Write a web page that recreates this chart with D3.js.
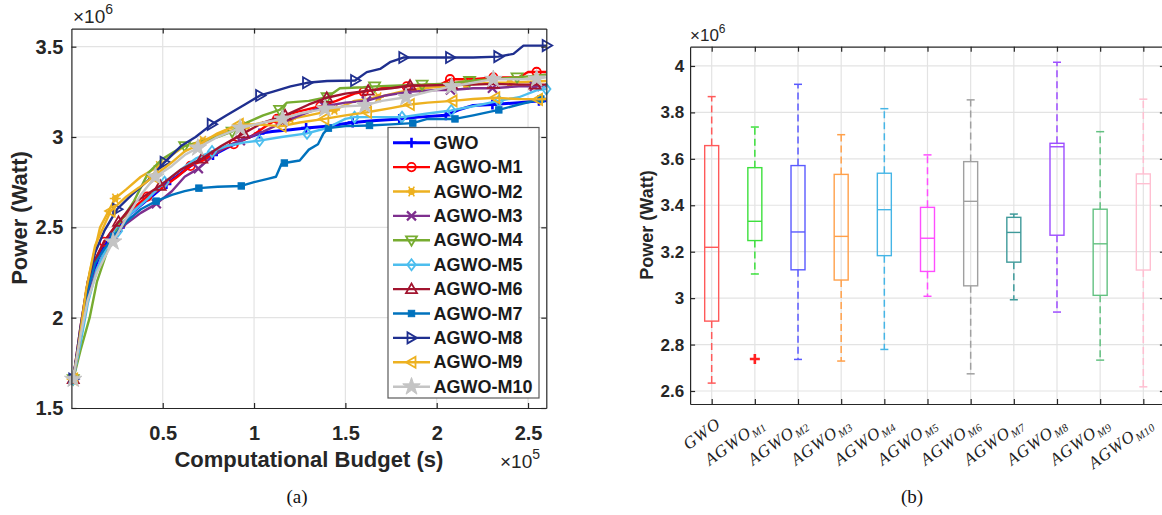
<!DOCTYPE html>
<html>
<head>
<meta charset="utf-8">
<script src="https://cdn.jsdelivr.net/npm/d3@7"></script>
<style>
  body { margin: 0; background: #fff; }
  svg { display: block; }
  .sans { font-family: "Liberation Sans", Arial, Helvetica, sans-serif; }
</style>
</head>
<body>
<svg id="chart" width="1162" height="515"></svg>
<script>
// ---------------- panel (a): convergence curves ----------------
// Budget in units of 1e5 s, power in units of 1e6 W.
// Third element = 1 where the curve carries a marker.
const seriesNames = ["GWO","AGWO-M1","AGWO-M2","AGWO-M3","AGWO-M4","AGWO-M5",
                     "AGWO-M6","AGWO-M7","AGWO-M8","AGWO-M9","AGWO-M10"];
const seriesColors = ["#0000ff","#ff0000","#edb120","#7e2f8e","#77ac30","#4dbeee",
                      "#a2142f","#0072bd","#1f2f8f","#edb120","#c4c4c4"];
const seriesMarkers = ["plus","circle","asterisk","cross","tdown","diamond",
                       "tup","square","tright","tleft","star"];

const gwo = [[0.01,1.66,1],[0.05,1.9],[0.08,2.1],[0.11,2.23],[0.16,2.36],[0.21,2.44],[0.265,2.5,1],
  [0.33,2.58],[0.4,2.64],[0.45,2.68],[0.52,2.74,1],[0.6,2.8],[0.68,2.86],[0.775,2.9,1],[0.85,2.94],
  [0.95,2.99],[1.03,3.02,1],[1.1,3.03],[1.2,3.04],[1.285,3.05,1],[1.4,3.06],[1.54,3.08,1],[1.65,3.09],
  [1.795,3.1,1],[1.9,3.11],[2.05,3.12,1],[2.12,3.15],[2.2,3.175],[2.305,3.18,1],[2.45,3.19],[2.56,3.2,1],[2.6,3.2]];
const agwoM1 = [[0.01,1.66,1],[0.05,1.95],[0.09,2.2],[0.13,2.32],[0.178,2.42,1],[0.25,2.52],[0.33,2.6],
  [0.415,2.67,1],[0.5,2.72],[0.58,2.78],[0.652,2.84,1],[0.72,2.87],[0.8,2.92],[0.889,2.96,1],[0.98,3.0],
  [1.05,3.05],[1.126,3.1,1],[1.2,3.13],[1.28,3.15],[1.363,3.17,1],[1.45,3.2],[1.55,3.24],[1.6,3.25,1],
  [1.7,3.27],[1.836,3.28,1],[1.95,3.29],[2.02,3.29],[2.073,3.32,1],[2.2,3.32],[2.31,3.33,1],[2.45,3.33],
  [2.5,3.36],[2.547,3.36,1],[2.6,3.36]];
const agwoM2 = [[0.01,1.66,1],[0.04,1.85],[0.07,2.02],[0.1,2.25],[0.157,2.5],[0.24,2.66,1],[0.3,2.71],
  [0.38,2.78],[0.48,2.84,1],[0.55,2.9],[0.62,2.95],[0.72,2.98,1],[0.82,3.02],[0.96,3.06,1],[1.05,3.08],
  [1.2,3.1,1],[1.3,3.12],[1.44,3.15,1],[1.55,3.2],[1.68,3.22,1],[1.8,3.25],[1.92,3.27,1],[2.05,3.28],
  [2.16,3.29,1],[2.3,3.3],[2.4,3.3,1],[2.6,3.31]];
const agwoM3 = [[0.01,1.66,1],[0.05,1.88],[0.09,2.1],[0.13,2.25],[0.18,2.36],[0.235,2.45,1],[0.3,2.52],
  [0.38,2.58],[0.465,2.63,1],[0.55,2.7],[0.62,2.78],[0.695,2.825,1],[0.78,2.9],[0.85,2.95],[0.925,2.98,1],
  [1.05,3.03],[1.155,3.08,1],[1.25,3.12],[1.385,3.17,1],[1.5,3.19],[1.615,3.2,1],[1.72,3.23],[1.845,3.25,1],
  [2.0,3.26],[2.075,3.26,1],[2.2,3.27],[2.305,3.27,1],[2.45,3.28],[2.535,3.28,1],[2.6,3.28]];
const agwoM4 = [[0.01,1.66,1],[0.05,1.82],[0.1,2.0],[0.14,2.2],[0.2,2.38],[0.26,2.52],[0.34,2.64],
  [0.42,2.8],[0.5,2.88],[0.58,2.93],[0.62,2.95,1],[0.7,2.97],[0.8,3.0],[0.88,3.03,1],[0.96,3.08],
  [1.05,3.12],[1.14,3.15,1],[1.18,3.19],[1.3,3.2],[1.4,3.22,1],[1.47,3.27],[1.6,3.275],[1.66,3.28,1],
  [1.8,3.285],[1.92,3.29,1],[2.05,3.295],[2.18,3.31,1],[2.3,3.32],[2.44,3.33,1],[2.6,3.345]];
const agwoM5 = [[0.01,1.66,1],[0.05,1.86],[0.09,2.08],[0.14,2.27],[0.19,2.38],[0.255,2.48,1],[0.33,2.58],
  [0.42,2.66],[0.51,2.75,1],[0.6,2.82],[0.68,2.88],[0.77,2.92,1],[0.85,2.95],[0.95,2.97],[1.03,2.98,1],
  [1.15,3.0],[1.29,3.02,1],[1.4,3.05],[1.5,3.1],[1.55,3.11,1],[1.7,3.11],[1.81,3.11,1],[1.95,3.13],
  [2.08,3.147,1],[2.2,3.17],[2.34,3.2,1],[2.45,3.22],[2.55,3.26],[2.6,3.265,1]];
const agwoM6 = [[0.01,1.66,1],[0.04,1.85],[0.08,2.12],[0.12,2.3],[0.18,2.42],[0.258,2.53,1],[0.35,2.64],
  [0.486,2.73,1],[0.6,2.82],[0.714,2.88,1],[0.82,2.95],[0.942,3.02,1],[1.05,3.08],[1.17,3.12,1],
  [1.3,3.18],[1.398,3.217,1],[1.5,3.24],[1.625,3.257,1],[1.75,3.27],[1.854,3.285,1],[1.95,3.285],
  [2.082,3.29,1],[2.2,3.29],[2.31,3.294,1],[2.45,3.29],[2.538,3.29,1],[2.6,3.29]];
const agwoM7 = [[0.01,1.66,1],[0.05,1.92],[0.09,2.15],[0.13,2.3],[0.18,2.38],[0.23,2.45,1],[0.3,2.53],
  [0.38,2.6],[0.464,2.645,1],[0.55,2.68],[0.62,2.7],[0.698,2.717,1],[0.8,2.725],[0.93,2.729,1],[1.0,2.75],
  [1.08,2.77],[1.12,2.78],[1.15,2.85],[1.166,2.856,1],[1.25,2.87],[1.3,2.93],[1.35,2.96],[1.38,3.02],
  [1.407,3.049,1],[1.5,3.06],[1.632,3.064,1],[1.75,3.07],[1.869,3.077,1],[1.95,3.1],[2.1,3.1,1],
  [2.2,3.12],[2.34,3.15,1],[2.45,3.18],[2.57,3.21,1],[2.6,3.21]];
const agwoM8 = [[0.01,1.66,1],[0.05,1.95],[0.09,2.2],[0.13,2.36],[0.18,2.48],[0.25,2.6,1],[0.33,2.68],
  [0.42,2.76],[0.51,2.86,1],[0.6,2.95],[0.68,3.0],[0.768,3.07,1],[0.85,3.12],[0.95,3.18],[1.033,3.23,1],
  [1.1,3.25],[1.2,3.28],[1.29,3.3,1],[1.4,3.31],[1.553,3.313,1],[1.617,3.359],[1.69,3.377],[1.744,3.414],
  [1.817,3.44,1],[1.95,3.44],[2.073,3.44,1],[2.2,3.44],[2.337,3.445,1],[2.42,3.46],[2.475,3.506],[2.602,3.506,1]];
const agwoM9 = [[0.01,1.66,1],[0.04,1.85],[0.08,2.15],[0.13,2.4],[0.215,2.59,1],[0.3,2.67],[0.37,2.72],
  [0.449,2.78,1],[0.55,2.86],[0.62,2.92],[0.683,2.95,1],[0.8,3.02],[0.917,3.07,1],[1.0,3.07],[1.151,3.06,1],
  [1.25,3.08],[1.385,3.1,1],[1.5,3.12],[1.619,3.137,1],[1.75,3.16],[1.853,3.18,1],[1.95,3.19],[2.087,3.2,1],
  [2.2,3.21],[2.321,3.217,1],[2.45,3.21],[2.555,3.208,1],[2.6,3.21]];
const agwoM10 = [[0.01,1.66,1],[0.05,1.9],[0.09,2.1],[0.14,2.25],[0.18,2.33],[0.228,2.42,1],[0.3,2.55],
  [0.38,2.68],[0.46,2.78,1],[0.55,2.84],[0.62,2.9],[0.692,2.94,1],[0.8,3.0],[0.924,3.05,1],[1.05,3.08],
  [1.156,3.1,1],[1.25,3.13],[1.388,3.156,1],[1.5,3.17],[1.607,3.175,1],[1.7,3.2],[1.832,3.22,1],[1.95,3.25],
  [2.082,3.28,1],[2.2,3.3],[2.31,3.32,1],[2.45,3.32],[2.547,3.322,1],[2.6,3.33]];
const seriesData = [gwo, agwoM1, agwoM2, agwoM3, agwoM4, agwoM5, agwoM6, agwoM7, agwoM8, agwoM9, agwoM10];

const budgetTicks = [0.5, 1, 1.5, 2, 2.5];
const budgetTickLabels = ["0.5", "1", "1.5", "2", "2.5"];
const powerTicksA = [1.5, 2, 2.5, 3, 3.5];
const powerTickLabelsA = ["1.5", "2", "2.5", "3", "3.5"];

// ---------------- panel (b): box plot statistics (units of 1e6 W) ----------------
const boxBase = ["GWO","AGWO","AGWO","AGWO","AGWO","AGWO","AGWO","AGWO","AGWO","AGWO","AGWO"];
const boxSub  = ["","M1","M2","M3","M4","M5","M6","M7","M8","M9","M10"];
const boxColors = ["#ff5a5a","#3de03d","#5a5aff","#ffa04a","#45b5e6","#ff4dff",
                   "#a0a0a0","#3f9a9a","#9d4dff","#63c181","#ffbfd1"];
const boxLow    = [2.634, 3.104, 2.736, 2.729, 2.779, 3.008, 2.674, 2.993, 2.940, 2.733, 2.618];
const boxQ1     = [2.901, 3.248, 3.122, 3.078, 3.183, 3.115, 3.053, 3.155, 3.271, 3.012, 3.121];
const boxMedian = [3.219, 3.331, 3.285, 3.266, 3.381, 3.258, 3.417, 3.283, 3.652, 3.234, 3.493];
const boxQ3     = [3.657, 3.562, 3.571, 3.533, 3.538, 3.391, 3.588, 3.348, 3.667, 3.383, 3.535];
const boxHigh   = [3.868, 3.737, 3.921, 3.704, 3.816, 3.617, 3.854, 3.362, 4.016, 3.717, 3.857];
const boxOutliers = [[], [2.738], [], [], [], [], [], [], [], [], []];
const powerTicksB = [2.6, 2.8, 3, 3.2, 3.4, 3.6, 3.8, 4];
const powerTickLabelsB = ["2.6", "2.8", "3", "3.2", "3.4", "3.6", "3.8", "4"];

// ---------------- shared styling ----------------
const axisColor = "#262626";
const gridColor = "#e3e3e3";
const svg = d3.select("#chart");

function styleAxis(g, fontSize) {
  g.select(".domain").attr("stroke", axisColor).attr("stroke-width", 1.2);
  g.selectAll(".tick line").attr("stroke", axisColor).attr("stroke-width", 1.2);
  g.selectAll(".tick text").attr("fill", axisColor)
    .attr("font-family", "Liberation Sans, Arial, sans-serif")
    .attr("font-weight", "bold").attr("font-size", fontSize);
}

// Marker glyphs drawn at (x, y)
function drawMarker(g, type, color, x, y) {
  const sw = 1.8;
  switch (type) {
    case "plus":
      g.append("path").attr("d", `M${x-5},${y}H${x+5}M${x},${y-5}V${y+5}`)
        .attr("stroke", color).attr("stroke-width", 2.6).attr("fill", "none"); break;
    case "circle":
      g.append("circle").attr("cx", x).attr("cy", y).attr("r", 4.2)
        .attr("fill", "none").attr("stroke", color).attr("stroke-width", sw); break;
    case "asterisk":
      g.append("circle").attr("cx", x).attr("cy", y).attr("r", 3.4).attr("fill", color);
      g.append("path").attr("d", `M${x-5.5},${y}H${x+5.5}M${x-2.8},${y-4.8}L${x+2.8},${y+4.8}M${x-2.8},${y+4.8}L${x+2.8},${y-4.8}`)
        .attr("stroke", color).attr("stroke-width", 1.6).attr("fill", "none"); break;
    case "cross":
      g.append("path").attr("d", `M${x-4.5},${y-4.5}L${x+4.5},${y+4.5}M${x-4.5},${y+4.5}L${x+4.5},${y-4.5}`)
        .attr("stroke", color).attr("stroke-width", 2.2).attr("fill", "none"); break;
    case "tdown":
      g.append("path").attr("d", `M${x-5.5},${y-4}L${x+5.5},${y-4}L${x},${y+5.5}Z`)
        .attr("stroke", color).attr("stroke-width", sw).attr("fill", "none"); break;
    case "tup":
      g.append("path").attr("d", `M${x-5.5},${y+4}L${x+5.5},${y+4}L${x},${y-5.5}Z`)
        .attr("stroke", color).attr("stroke-width", sw).attr("fill", "none"); break;
    case "tright":
      g.append("path").attr("d", `M${x-4},${y-5.5}L${x-4},${y+5.5}L${x+5.5},${y}Z`)
        .attr("stroke", color).attr("stroke-width", sw).attr("fill", "none"); break;
    case "tleft":
      g.append("path").attr("d", `M${x+4},${y-5.5}L${x+4},${y+5.5}L${x-5.5},${y}Z`)
        .attr("stroke", color).attr("stroke-width", sw).attr("fill", "none"); break;
    case "diamond":
      g.append("path").attr("d", `M${x},${y-5.5}L${x+4.2},${y}L${x},${y+5.5}L${x-4.2},${y}Z`)
        .attr("stroke", color).attr("stroke-width", sw).attr("fill", "none"); break;
    case "square":
      g.append("rect").attr("x", x-3.2).attr("y", y-3.2).attr("width", 6.4).attr("height", 6.4)
        .attr("fill", color).attr("stroke", color).attr("stroke-width", 1); break;
    case "star":
      g.append("path").attr("d", d3.symbol(d3.symbolStar, 95)())
        .attr("transform", `translate(${x},${y})`).attr("fill", color)
        .attr("stroke", color).attr("stroke-width", 1); break;
  }
}

// ======================= Panel (a) =======================
const xA = d3.scaleLinear().domain([0, 2.6]).range([71.4, 546.3]);
const yA = d3.scaleLinear().domain([1.5, 3.6]).range([408, 28.6]);
const gA = svg.append("g");

// grid
gA.append("g").selectAll("line").data(budgetTicks).join("line")
  .attr("x1", d => xA(d)).attr("x2", d => xA(d)).attr("y1", yA.range()[0]).attr("y2", yA.range()[1])
  .attr("stroke", gridColor).attr("stroke-width", 1.2);
gA.append("g").selectAll("line").data(powerTicksA.slice(1)).join("line")
  .attr("x1", xA.range()[0]).attr("x2", xA.range()[1]).attr("y1", d => yA(d)).attr("y2", d => yA(d))
  .attr("stroke", gridColor).attr("stroke-width", 1.2);

// curves
const lineA = d3.line().x(d => xA(d[0])).y(d => yA(d[1]));
const curveLayer = gA.append("g");
seriesData.forEach((pts, i) => {
  const g = curveLayer.append("g");
  g.append("path").attr("d", lineA(pts)).attr("fill", "none")
    .attr("stroke", seriesColors[i]).attr("stroke-width", i === 0 ? 3 : 2.4)
    .attr("stroke-linejoin", "round");
  pts.filter(p => p[2] === 1).forEach(p => drawMarker(g, seriesMarkers[i], seriesColors[i], xA(p[0]), yA(p[1])));
});

// axes (ticks point inward, box on)
const axBottomA = gA.append("g").attr("transform", `translate(0,${yA.range()[0]})`)
  .call(d3.axisBottom(xA).tickValues(budgetTicks).tickFormat((d, i) => budgetTickLabels[i])
    .tickSizeInner(-5).tickSizeOuter(0).tickPadding(18));
styleAxis(axBottomA, 20);
const axLeftA = gA.append("g").attr("transform", `translate(${xA.range()[0]},0)`)
  .call(d3.axisLeft(yA).tickValues(powerTicksA).tickFormat((d, i) => powerTickLabelsA[i])
    .tickSizeInner(-5).tickSizeOuter(0).tickPadding(8));
styleAxis(axLeftA, 20);
const axTopA = gA.append("g").attr("transform", `translate(0,${yA.range()[1]})`)
  .call(d3.axisTop(xA).tickValues(budgetTicks).tickFormat("").tickSizeInner(-5).tickSizeOuter(0));
styleAxis(axTopA, 20);
const axRightA = gA.append("g").attr("transform", `translate(${xA.range()[1]},0)`)
  .call(d3.axisRight(yA).tickValues(powerTicksA).tickFormat("").tickSizeInner(-5).tickSizeOuter(0));
styleAxis(axRightA, 20);

// axis titles and exponent labels
gA.append("text").attr("class", "sans").attr("transform", "translate(27,218) rotate(-90)")
  .attr("text-anchor", "middle").attr("font-weight", "bold").attr("font-size", 22).attr("fill", axisColor)
  .text("Power (Watt)");
gA.append("text").attr("class", "sans").attr("x", (xA.range()[0] + xA.range()[1]) / 2).attr("y", 467)
  .attr("text-anchor", "middle").attr("font-weight", "bold").attr("font-size", 22).attr("fill", axisColor)
  .text("Computational Budget (s)");
const expA = gA.append("text").attr("class", "sans").attr("x", 73).attr("y", 23)
  .attr("font-size", 19).attr("fill", axisColor);
expA.append("tspan").text("×10");
expA.append("tspan").attr("dy", -9).attr("font-size", 14).text("6");
const expX = gA.append("text").attr("class", "sans").attr("x", 500).attr("y", 468)
  .attr("font-size", 19).attr("fill", axisColor);
expX.append("tspan").text("×10");
expX.append("tspan").attr("dy", -9).attr("font-size", 14).text("5");

// legend
const legX = 388, legY = 127.5, legW = 151, legH = 270.5, legStep = 24.4;
const leg = gA.append("g");
leg.append("rect").attr("x", legX).attr("y", legY).attr("width", legW).attr("height", legH)
  .attr("fill", "#fff").attr("stroke", "#5a5a5a").attr("stroke-width", 1.2);
seriesNames.forEach((name, i) => {
  const cy = legY + 15.2 + i * legStep;
  const g = leg.append("g");
  g.append("line").attr("x1", legX + 5).attr("x2", legX + 42).attr("y1", cy).attr("y2", cy)
    .attr("stroke", seriesColors[i]).attr("stroke-width", i === 0 ? 3 : 2.4);
  drawMarker(g, seriesMarkers[i], seriesColors[i], legX + 23.5, cy);
  g.append("text").attr("class", "sans").attr("x", legX + 45.5).attr("y", cy)
    .attr("dominant-baseline", "central").attr("font-weight", "bold").attr("font-size", 18)
    .attr("fill", "#1a1a1a").text(name);
});

// caption
svg.append("text").attr("x", 297).attr("y", 503).attr("text-anchor", "middle")
  .attr("font-family", "Liberation Serif, Times New Roman, serif").attr("font-size", 19).attr("fill", "#111")
  .text("(a)");

// ======================= Panel (b) =======================
const positions = d3.range(1, boxBase.length + 1);
const xB = d3.scaleLinear().domain([0.5, 11.5]).range([690.1, 1164.9]);
const yB = d3.scaleLinear().domain([2.544, 4.083]).range([404, 46.7]);
const gB = svg.append("g");

gB.append("g").selectAll("line").data(positions).join("line")
  .attr("x1", d => xB(d)).attr("x2", d => xB(d)).attr("y1", yB.range()[0]).attr("y2", yB.range()[1])
  .attr("stroke", gridColor).attr("stroke-width", 1.2);
gB.append("g").selectAll("line").data(powerTicksB).join("line")
  .attr("x1", xB.range()[0]).attr("x2", xB.range()[1]).attr("y1", d => yB(d)).attr("y2", d => yB(d))
  .attr("stroke", gridColor).attr("stroke-width", 1.2);

const halfBox = 0.162, halfCap = 0.093;
const boxLayer = gB.append("g");
positions.forEach((p, i) => {
  const c = boxColors[i];
  const g = boxLayer.append("g");
  // whiskers (dashed)
  g.append("line").attr("x1", xB(p)).attr("x2", xB(p)).attr("y1", yB(boxQ3[i])).attr("y2", yB(boxHigh[i]))
    .attr("stroke", c).attr("stroke-width", 1.5).attr("stroke-dasharray", "7,4");
  g.append("line").attr("x1", xB(p)).attr("x2", xB(p)).attr("y1", yB(boxQ1[i])).attr("y2", yB(boxLow[i]))
    .attr("stroke", c).attr("stroke-width", 1.5).attr("stroke-dasharray", "7,4");
  // caps
  [boxHigh[i], boxLow[i]].forEach(v => {
    g.append("line").attr("x1", xB(p - halfCap)).attr("x2", xB(p + halfCap))
      .attr("y1", yB(v)).attr("y2", yB(v)).attr("stroke", c).attr("stroke-width", 1.5);
  });
  // box and median
  g.append("rect").attr("x", xB(p - halfBox)).attr("width", xB(p + halfBox) - xB(p - halfBox))
    .attr("y", yB(boxQ3[i])).attr("height", yB(boxQ1[i]) - yB(boxQ3[i]))
    .attr("fill", "none").attr("stroke", c).attr("stroke-width", 1.4);
  g.append("line").attr("x1", xB(p - halfBox)).attr("x2", xB(p + halfBox))
    .attr("y1", yB(boxMedian[i])).attr("y2", yB(boxMedian[i])).attr("stroke", c).attr("stroke-width", 1.4);
  // outliers
  boxOutliers[i].forEach(v => drawMarker(g, "plus", "#ff2020", xB(p), yB(v)));
});

const axBottomB = gB.append("g").attr("transform", `translate(0,${yB.range()[0]})`)
  .call(d3.axisBottom(xB).tickValues(positions).tickFormat("").tickSizeInner(-5).tickSizeOuter(0));
styleAxis(axBottomB, 16);
const axTopB = gB.append("g").attr("transform", `translate(0,${yB.range()[1]})`)
  .call(d3.axisTop(xB).tickValues(positions).tickFormat("").tickSizeInner(-5).tickSizeOuter(0));
styleAxis(axTopB, 16);
const axLeftB = gB.append("g").attr("transform", `translate(${xB.range()[0]},0)`)
  .call(d3.axisLeft(yB).tickValues(powerTicksB).tickFormat((d, i) => powerTickLabelsB[i])
    .tickSizeInner(-5).tickSizeOuter(0).tickPadding(6));
styleAxis(axLeftB, 17);
const axRightB = gB.append("g").attr("transform", `translate(${xB.range()[1]},0)`)
  .call(d3.axisRight(yB).tickValues(powerTicksB).tickFormat("").tickSizeInner(-5).tickSizeOuter(0));
styleAxis(axRightB, 16);

// rotated category labels with subscripts
positions.forEach((p, i) => {
  const t = gB.append("text")
    .attr("transform", `translate(${xB(p) + 3},${yB.range()[0] + 12}) rotate(-36)`)
    .attr("text-anchor", "end").attr("dy", "0.72em")
    .attr("font-family", "Liberation Serif, Times New Roman, serif").attr("font-style", "italic")
    .attr("font-size", 17).attr("letter-spacing", 1).attr("fill", "#222");
  t.append("tspan").text(boxBase[i]);
  if (boxSub[i]) t.append("tspan").attr("font-size", 11).attr("dy", 4).attr("letter-spacing", 0.3).text(boxSub[i]);
});

gB.append("text").attr("class", "sans").attr("transform", "translate(653,225) rotate(-90)")
  .attr("text-anchor", "middle").attr("font-weight", "bold").attr("font-size", 18).attr("fill", axisColor)
  .text("Power (Watt)");
const expB = gB.append("text").attr("class", "sans").attr("x", 690).attr("y", 41)
  .attr("font-size", 17).attr("fill", axisColor);
expB.append("tspan").text("×10");
expB.append("tspan").attr("dy", -8).attr("font-size", 12).text("6");

svg.append("text").attr("x", 912).attr("y", 503).attr("text-anchor", "middle")
  .attr("font-family", "Liberation Serif, Times New Roman, serif").attr("font-size", 19).attr("fill", "#111")
  .text("(b)");
</script>
</body>
</html>
